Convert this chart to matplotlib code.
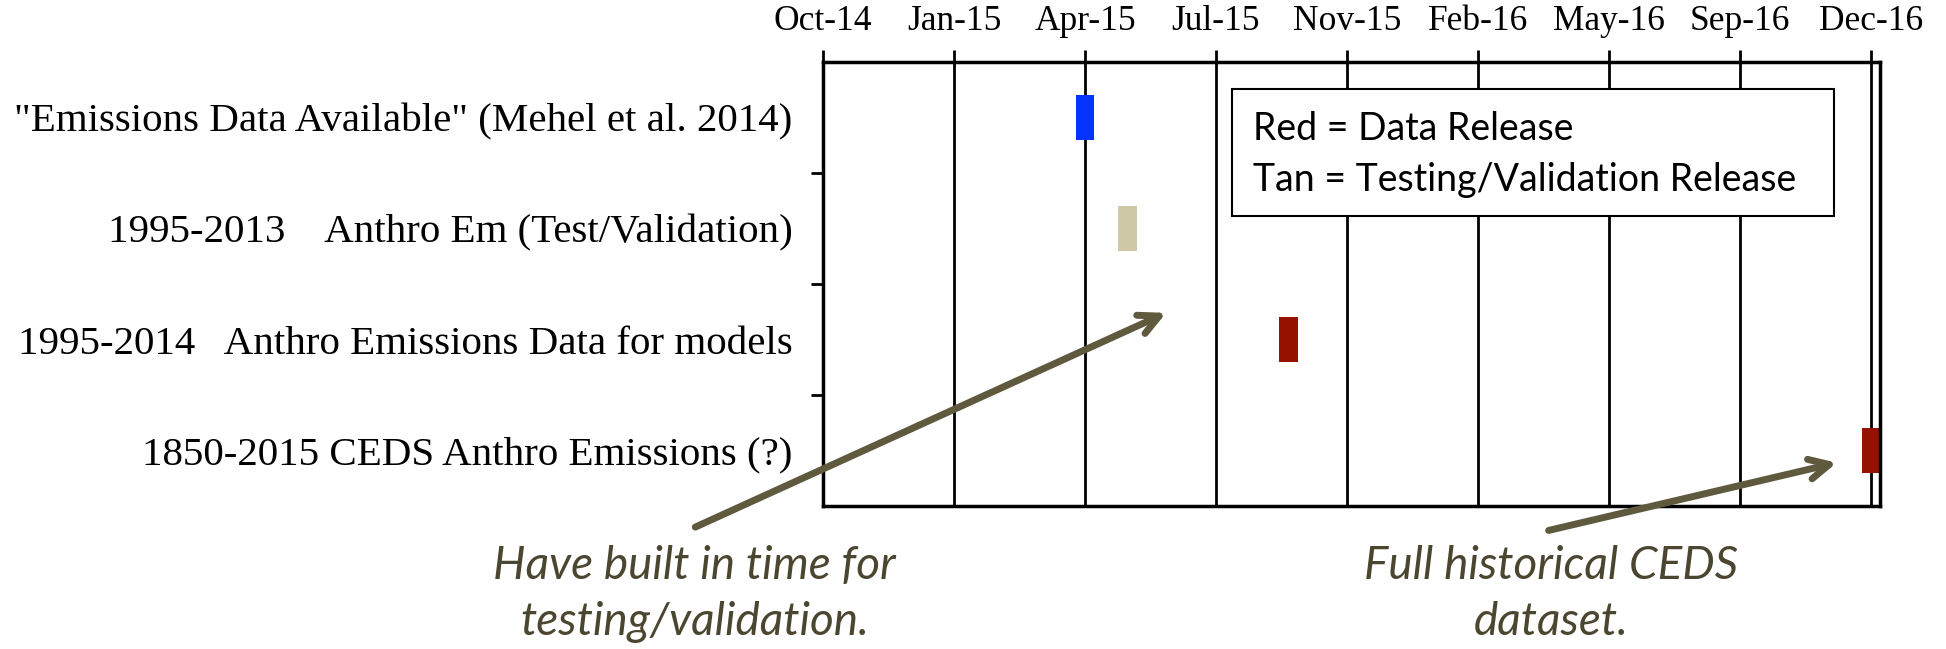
import matplotlib.pyplot as plt
from matplotlib.patches import Rectangle

# timeline chart: release schedule

tick_labels = ["Oct-14", "Jan-15", "Apr-15", "Jul-15", "Nov-15",
               "Feb-16", "May-16", "Sep-16", "Dec-16"]
rows = ['"Emissions Data Available" (Mehel et al. 2014)',
        "1995-2013    Anthro Em (Test/Validation)",
        "1995-2014   Anthro Emissions Data for models",
        "1850-2015 CEDS Anthro Emissions (?)"]
# bar start / width in tick units (one unit = one tick interval)
bar_start = [1.93, 2.25, 3.48, 7.93]
bar_width = [0.14, 0.15, 0.15, 0.15]
bar_color = ["#0433ff", "#cfc8a6", "#961200", "#961200"]

fig = plt.figure(figsize=(19.46, 6.49), dpi=100)
ax = fig.add_axes([0.4229, 0.2203, 0.5432, 0.6842])

serif = ["Liberation Serif", "DejaVu Serif"]

ax.barh(range(len(rows)), bar_width, left=bar_start, height=0.4,
        color=bar_color, zorder=3)

ax.set_xlim(0, 8.07)
ax.set_ylim(3.5, -0.5)

ax.set_xticks(range(len(tick_labels)))
ax.set_xticklabels(tick_labels, fontsize=25.5, family=serif)
ax.xaxis.tick_top()
ax.tick_params(axis="x", direction="out", length=9, width=2, pad=8)
ax.grid(axis="x", color="black", lw=2, zorder=1)

ax.set_yticks(range(len(rows)))
ax.set_yticklabels(rows, fontsize=29.5, family=serif)
ax.set_yticks([0.5, 1.5, 2.5], minor=True)
ax.tick_params(axis="y", which="major", length=0, pad=22)
ax.tick_params(axis="y", which="minor", length=9, width=2)

for s in ax.spines.values():
    s.set_linewidth(2.5)
    s.set_zorder(4)

# legend-like note box
ax.add_patch(Rectangle((0.387, 0.653), 0.5695, 0.286, transform=ax.transAxes,
                       facecolor="white", edgecolor="black", lw=1.5, zorder=5))
ax.text(0.407, 0.849, "Red = Data Release", transform=ax.transAxes,
        fontsize=27, family="Lato", va="center", zorder=6)
ax.text(0.407, 0.734, "Tan = Testing/Validation Release", transform=ax.transAxes,
        fontsize=27, family="Lato", va="center", zorder=6)

arrow_col = "#5f5a3e"
text_col = "#4b4630"
ax.annotate("", xy=(2.62, 1.76), xytext=(-0.975, 3.69),
            arrowprops=dict(arrowstyle="->", color=arrow_col, lw=5,
                            mutation_scale=36, shrinkA=0, shrinkB=0),
            annotation_clip=False, zorder=7)
ax.annotate("", xy=(7.74, 3.11), xytext=(5.54, 3.72),
            arrowprops=dict(arrowstyle="->", color=arrow_col, lw=5,
                            mutation_scale=36, shrinkA=0, shrinkB=0),
            annotation_clip=False, zorder=7)

fig.text(0.357, 0.085, "Have built in time for\ntesting/validation.",
         ha="center", va="center", fontsize=33, style="italic",
         family="Lato", color=text_col, linespacing=1.4)
fig.text(0.797, 0.085, "Full historical CEDS\ndataset.",
         ha="center", va="center", fontsize=33, style="italic",
         family="Lato", color=text_col, linespacing=1.4)

fig.savefig("out.png", dpi=100)
